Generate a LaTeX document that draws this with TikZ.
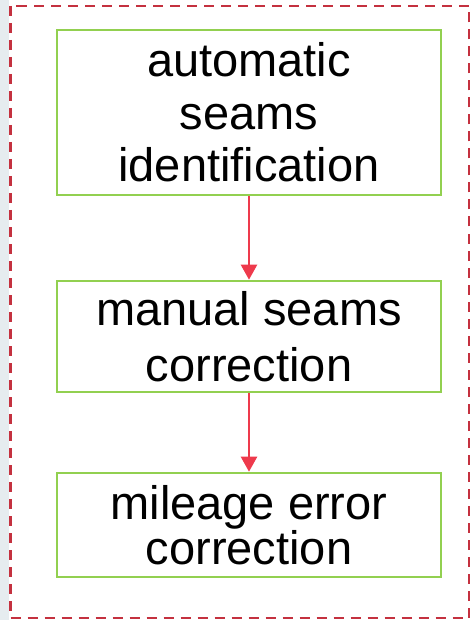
\documentclass[tikz,border=0pt]{standalone}
\usepackage{fontspec}
\setmainfont{Liberation Sans}
\usetikzlibrary{arrows.meta}
\definecolor{stepgreen}{HTML}{92D050}
\definecolor{flowred}{HTML}{EE3A4C}
\definecolor{frame red}{HTML}{C4313F}
\definecolor{side grey}{HTML}{E6ECEF}
\begin{document}
\begin{tikzpicture}[x=1pt,y=-1pt,
    main node/.style={rectangle,draw=stepgreen,line width=2.6pt,minimum width=384pt,align=center,inner sep=0pt},
    flow/.style={draw=flowred,line width=2.4pt,-{Triangle[length=15pt,width=16pt]}}]
    \useasboundingbox (0,0) rectangle (472,620);
    \fill[side grey] (0,0) rectangle (9,620);
    \draw[frame red,line width=2.4pt,dash pattern=on 10pt off 7pt] (10.5,6) rectangle (469,618);

    \node[main node,minimum height=165pt,font=\fontsize{47}{52.5}\selectfont] (1) at (249,112.5) {automatic\\seams\\identification};
    \node[main node,minimum height=111pt,font=\fontsize{47}{56}\selectfont] (2) at (249,336.5) {manual seams\\correction};
    \node[main node,minimum height=104pt,font=\fontsize{47}{42}\selectfont] (3) at (249,525) {mileage error\\correction};

    \path
        (1) edge[flow] (2)
        (2) edge[flow] (3)
        ;
\end{tikzpicture}
\end{document}
